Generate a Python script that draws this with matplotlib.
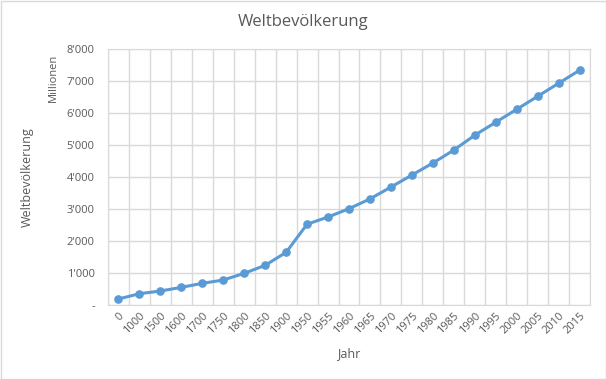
import matplotlib
matplotlib.use("Agg")
import matplotlib.pyplot as plt
from matplotlib.ticker import FuncFormatter, MultipleLocator, FixedLocator

jahre = ["0", "1000", "1500", "1600", "1700", "1750", "1800", "1850", "1900",
         "1950", "1955", "1960", "1965", "1970", "1975", "1980", "1985",
         "1990", "1995", "2000", "2005", "2010", "2015"]
bevoelkerung = [188, 353, 437, 552, 677, 781, 990, 1240, 1646, 2525, 2750,
                3010, 3315, 3685, 4060, 4435, 4840, 5305, 5710, 6115, 6520,
                6928, 7335]

plt.rcParams['font.family'] = ['Open Sans', 'DejaVu Sans']
grey = '#595959'
blue = '#5B9BD5'

fig = plt.figure(figsize=(6.06, 3.79), dpi=100)
ax = fig.add_axes([108/606, 1-305/379, 482/606, 256/379])

n = len(jahre)
x = list(range(n))
ax.plot(x, bevoelkerung, color=blue, lw=2.2, marker='o', ms=5.2, zorder=3,
        solid_capstyle='round')
ax.set_xlim(-0.5, n - 0.5)
ax.set_ylim(0, 8000)
ax.yaxis.set_major_locator(MultipleLocator(1000))
ax.yaxis.set_major_formatter(FuncFormatter(
    lambda v, p: '-' if v == 0 else f"{int(v):,}".replace(',', "'")))
ax.set_xticks(x)
ax.set_xticklabels(jahre, rotation=45, ha='right', va='top',
                   rotation_mode='anchor')
ax.xaxis.set_minor_locator(FixedLocator([i + 0.5 for i in range(-1, n)]))
ax.grid(True, which='major', axis='y', color='#D9D9D9', lw=1)
ax.grid(True, which='minor', axis='x', color='#D9D9D9', lw=1)
ax.set_axisbelow(True)
for s in ax.spines.values():
    s.set_color('#D9D9D9')
ax.tick_params(axis='both', which='both', length=0, colors=grey, labelsize=8)
ax.tick_params(axis='y', pad=9.5)
ax.tick_params(axis='x', pad=4)

ax.set_xlabel('Jahr', color=grey, fontsize=9, labelpad=8)
fig.text(27/606, 1-177/379, 'Weltbevölkerung', rotation=90, color=grey,
         fontsize=9, ha='center', va='center')
fig.text(53/606, 1-78/379, 'Millionen', rotation=90, color=grey,
         fontsize=8, ha='center', va='center')
fig.text(303/606, 1-22/379, 'Weltbevölkerung', color=grey, fontsize=12,
         ha='center', va='center')

border = plt.Rectangle((0.5/606, 0.5/379), 1-1/606, 1-1/379,
                       transform=fig.transFigure, fill=False,
                       edgecolor='#D9D9D9', lw=1)
fig.patches.append(border)

fig.savefig('out.png', dpi=100)
